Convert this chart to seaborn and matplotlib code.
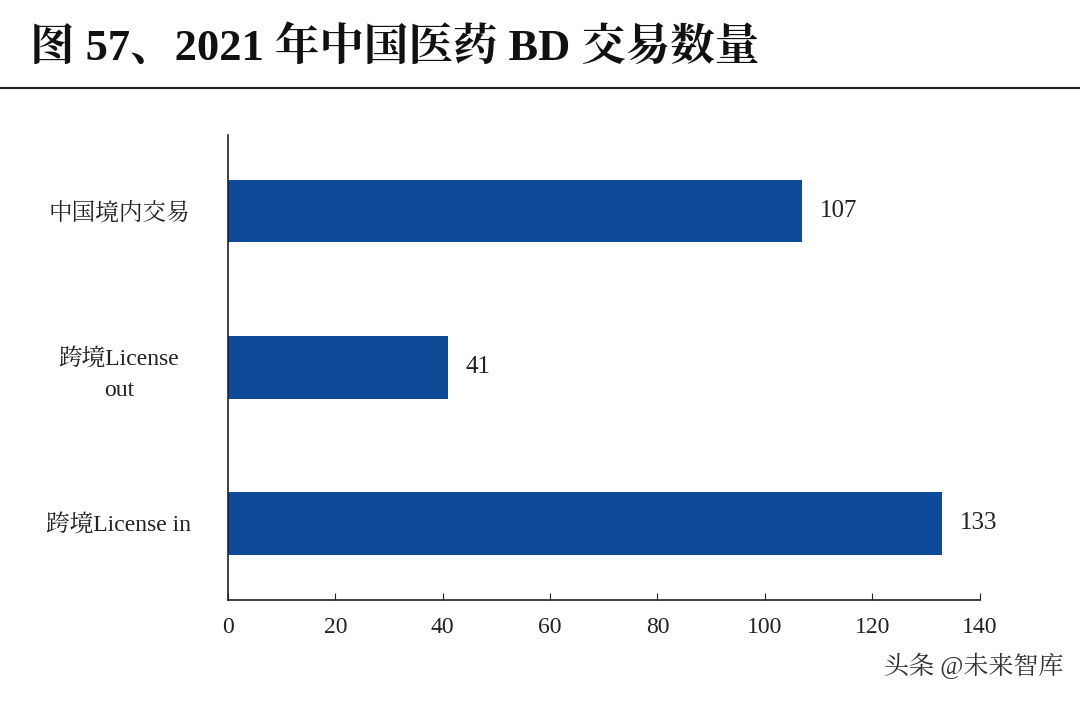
import matplotlib
matplotlib.use("Agg")
import matplotlib.pyplot as plt
from matplotlib import font_manager
import seaborn as sns
import pandas as pd

categories = ["中国境内交易", "跨境License\nout", "跨境License in"]
values = [107, 41, 133]
xticks = [0, 20, 40, 60, 80, 100, 120, 140]

cjk = [f.name for f in font_manager.fontManager.ttflist if "CJK" in f.name]
cjk_name = "Noto Sans CJK SC" if "Noto Sans CJK SC" in cjk else (cjk[0] if cjk else "DejaVu Sans")
fam = ["Liberation Serif", cjk_name]
plt.rcParams["font.family"] = fam

df = pd.DataFrame({"cat": categories, "val": values})
fig = plt.figure(figsize=(10.8, 7.05), dpi=100)
ax = fig.add_axes([0.211, 0.149, 0.696, 0.66])
sns.barplot(data=df, y="cat", x="val", color="#0d4a98", width=0.4, ax=ax, saturation=1)
for i, v in enumerate(values):
    ax.text(v + 3.3, i, str(v), va="center", ha="left", fontsize=18, color="#222")
ax.set_xlim(0, 140)
ax.set_xticks(xticks)
ax.set_ylim(2.49, -0.49)
ax.set_xlabel(""); ax.set_ylabel("")
ax.tick_params(axis="x", direction="in", length=5, labelsize=17, pad=12, colors="#222")
ax.tick_params(axis="y", length=0, labelsize=17, pad=0, colors="#222")
for lbl in ax.get_yticklabels():
    lbl.set_horizontalalignment("center")
    lbl.set_multialignment("center")
    lbl.set_linespacing(1.6)
    lbl.set_x(-0.145)
for s in ["top", "right"]:
    ax.spines[s].set_visible(False)
for s in ["left", "bottom"]:
    ax.spines[s].set_color("#222"); ax.spines[s].set_linewidth(1.2)

fig.text(0.028, 0.933, "图 57、2021 年中国医药 BD 交易数量", fontsize=32, fontweight="bold",
         va="center", ha="left", color="#111")
fig.add_artist(plt.Line2D([0, 1], [0.875, 0.875], color="#222", lw=1.5))
fig.text(0.985, 0.055, "头条 @未来智库", fontsize=18, ha="right", va="center", color="#333")
fig.savefig("out.png", dpi=100)
